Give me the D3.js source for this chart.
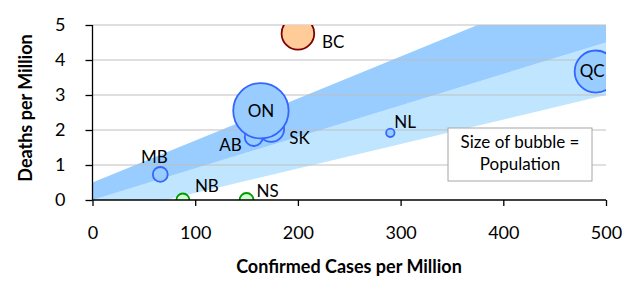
<!DOCTYPE html>
<html>
<head>
<meta charset="utf-8">
<script src="https://cdn.jsdelivr.net/npm/d3@7"></script>
<style>
  body { margin: 0; background: #fff; }
  svg { font-family: Lato, "Open Sans", sans-serif; }
</style>
</head>
<body>
<svg id="chart" width="641" height="290"></svg>
<script>
// data
var provinces = ["BC", "QC", "NL", "MB", "AB", "SK", "ON", "NB", "NS"];
var cases     = [200, 490, 290, 66, 157, 174, 164, 88, 150];
var deaths    = [4.76, 3.67, 1.92, 0.73, 1.8, 2.03, 2.55, 0, 0];
var sizes     = [5.1, 8.5, 0.34, 1.06, 1.55, 3.2, 14.7, 0.81, 0.94]; // population, millions (approx.)
var groups    = ["red", "blue", "blue", "blue", "blue", "blue", "blue", "green", "green"];

// shaded bands: x values and band edges
var bandX      = [0, 500];
var lightLow   = [-0.5, 3.0];
var darkLow    = [0, 4.5];
var darkHigh   = [0.5, 6.5];

var xTicks = [0, 100, 200, 300, 400, 500];
var yTicks = [0, 1, 2, 3, 4, 5];

// label placement relative to bubble centre
var labelPos = {
  BC: { dx: 24, dy: 8, anchor: "start" },
  QC: { dx: -3.5, dy: -1, anchor: "middle" },
  NL: { dx: 4, dy: -11, anchor: "start" },
  MB: { dx: -6, dy: -18, anchor: "middle" },
  AB: { dx: -12, dy: 7, anchor: "end" },
  SK: { dx: 18, dy: 9, anchor: "start" },
  ON: { dx: 0, dy: 0, anchor: "middle" },
  NB: { dx: 12, dy: -15, anchor: "start" },
  NS: { dx: 10, dy: -10, anchor: "start" }
};

var palette = {
  red:   { fill: "#FFCC99", stroke: "#800000" },
  blue:  { fill: "#99CCFF", stroke: "#3366FF" },
  green: { fill: "#CCFFCC", stroke: "#009900" }
};

var svg = d3.select("#chart");
var x = d3.scaleLinear().domain([0, 500]).range([92.5, 606]);
var y = d3.scaleLinear().domain([0, 5]).range([200, 25]);
var r = d3.scaleSqrt().domain([0, 14.7]).range([0, 27.7]);

svg.append("clipPath").attr("id", "plot")
  .append("rect")
  .attr("x", x(0)).attr("y", y(5))
  .attr("width", x(500) - x(0)).attr("height", y(0) - y(5));

var plot = svg.append("g").attr("clip-path", "url(#plot)");

function band(lo, hi, color) {
  var pts = bandX.map(function(v, i) { return { x: v, lo: lo[i], hi: hi[i] }; });
  var area = d3.area()
    .x(function(d) { return x(d.x); })
    .y0(function(d) { return y(d.lo); })
    .y1(function(d) { return y(d.hi); });
  plot.append("path").attr("d", area(pts)).attr("fill", color);
}
band(lightLow, darkLow, "#C0E6FF");
band(darkLow, darkHigh, "#99CCFF");

// gridlines
svg.append("g").selectAll("line")
  .data(yTicks.slice(1))
  .enter().append("line")
  .attr("x1", x(0)).attr("x2", x(500))
  .attr("y1", function(d) { return y(d); })
  .attr("y2", function(d) { return y(d); })
  .attr("stroke", "#BFBFBF").attr("stroke-width", 1);

// legend box
svg.append("rect")
  .attr("x", 448).attr("y", 128).attr("width", 144).attr("height", 53)
  .attr("fill", "#fff").attr("stroke", "#A6A6A6").attr("stroke-width", 1);
svg.append("text").attr("x", 520).attr("y", 141.5)
  .attr("text-anchor", "middle").attr("dominant-baseline", "central")
  .style("font-size", "17px").text("Size of bubble =");
svg.append("text").attr("x", 520).attr("y", 163.5)
  .attr("text-anchor", "middle").attr("dominant-baseline", "central")
  .style("font-size", "17px").text("Population");

// bubbles
var data = provinces.map(function(p, i) {
  return { name: p, cx: cases[i], cy: deaths[i], size: sizes[i], group: groups[i] };
});

var bubbles = svg.append("g").attr("clip-path", "url(#plot)");
bubbles.selectAll("circle")
  .data(data)
  .enter().append("circle")
  .attr("cx", function(d) { return x(d.cx); })
  .attr("cy", function(d) { return y(d.cy); })
  .attr("r", function(d) { return r(d.size); })
  .attr("fill", function(d) { return palette[d.group].fill; })
  .attr("stroke", function(d) { return palette[d.group].stroke; })
  .attr("stroke-width", 1.8);

// axes
var xAxis = svg.append("g")
  .attr("transform", "translate(0," + y(0) + ")")
  .call(d3.axisBottom(x).tickValues(xTicks).tickFormat(d3.format("d")).tickSize(6).tickPadding(20));
var yAxis = svg.append("g")
  .attr("transform", "translate(" + x(0) + ",0)")
  .call(d3.axisLeft(y).tickValues(yTicks).tickFormat(d3.format("d")).tickSize(7).tickPadding(20));

[xAxis, yAxis].forEach(function(a) {
  a.select(".domain").attr("stroke", "#000").attr("stroke-width", 1.3);
  a.selectAll(".tick line").attr("stroke", "#000").attr("stroke-width", 1.3);
  a.selectAll(".tick text").style("font-size", "18px").style("font-family", "Lato, sans-serif").attr("fill", "#000");
});
xAxis.select(".domain").attr("d", "M" + x(0) + ",0H" + x(500));
yAxis.select(".domain").attr("d", "M0," + y(5) + "V" + y(0));

// bubble labels
svg.append("g").selectAll("text")
  .data(data)
  .enter().append("text")
  .attr("x", function(d) { return x(d.cx) + labelPos[d.name].dx; })
  .attr("y", function(d) { return y(d.cy) + labelPos[d.name].dy; })
  .attr("text-anchor", function(d) { return labelPos[d.name].anchor; })
  .attr("dominant-baseline", "central")
  .style("font-size", "17px")
  .text(function(d) { return d.name; });

// axis titles
svg.append("text")
  .attr("x", 349).attr("y", 273)
  .attr("text-anchor", "middle")
  .style("font-size", "18px").style("font-weight", "bold")
  .text("Confirmed Cases per Million");
svg.append("text")
  .attr("transform", "translate(32,108) rotate(-90)")
  .attr("text-anchor", "middle")
  .style("font-size", "18px").style("font-weight", "bold")
  .text("Deaths per Million");
</script>
</body>
</html>
